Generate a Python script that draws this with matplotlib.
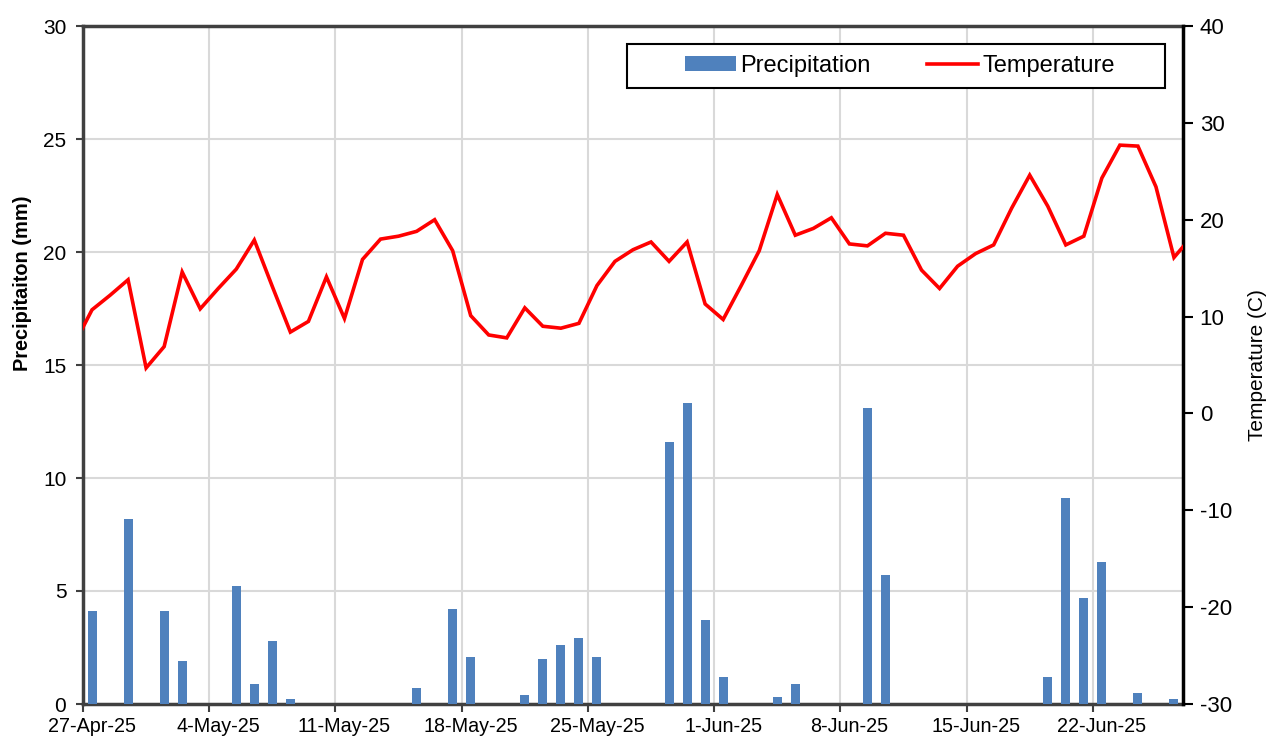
import datetime as dt
import matplotlib
matplotlib.use("Agg")
import matplotlib.pyplot as plt
import matplotlib.dates as mdates
from matplotlib.patches import Rectangle
from matplotlib.ticker import FixedLocator, NullFormatter

plt.rcParams['font.family'] = ['Liberation Sans', 'DejaVu Sans']
plt.rcParams['axes.unicode_minus'] = False

### Data (daily, starting 27-Apr-25)
start = dt.date(2025, 4, 27)
precip_mm = [4.1, 0, 8.2, 0, 4.1, 1.9, 0, 0, 5.2, 0.9,
             2.8, 0.2, 0, 0, 0, 0, 0, 0, 0.7, 0,
             4.2, 2.1, 0, 0, 0.4, 2.0, 2.6, 2.9, 2.1, 0,
             0, 0, 11.6, 13.3, 3.7, 1.2, 0, 0, 0.3, 0.9,
             0, 0, 0, 13.1, 5.7, 0, 0, 0, 0, 0,
             0, 0, 0, 1.2, 9.1, 4.7, 6.3, 0, 0.5, 0,
             0.2]
# temperature from 26-Apr to 27-Jun (first and last points fall outside the axis)
temp_c = [7.1,
          10.7, 12.2, 13.8, 4.7, 6.9, 14.6, 10.8, 12.9, 14.9, 17.9,
          13.1, 8.4, 9.5, 14.1, 9.8, 15.9, 18.0, 18.3, 18.8, 20.0,
          16.8, 10.1, 8.1, 7.8, 10.9, 9.0, 8.8, 9.3, 13.2, 15.7,
          16.9, 17.7, 15.7, 17.7, 11.3, 9.7, 13.2, 16.8, 22.6, 18.4,
          19.1, 20.2, 17.5, 17.3, 18.6, 18.4, 14.8, 12.9, 15.2, 16.5,
          17.4, 21.2, 24.6, 21.4, 17.4, 18.3, 24.3, 27.7, 27.6, 23.4,
          16.1, 18.3]

precip_dates = [start + dt.timedelta(days=i) for i in range(len(precip_mm))]
temp_dates = [start + dt.timedelta(days=i - 1) for i in range(len(temp_c))]
x_p = [mdates.date2num(d) + 0.5 for d in precip_dates]
x_t = [mdates.date2num(d) + 0.5 for d in temp_dates]

week_starts = [start + dt.timedelta(days=7 * k) for k in range(9)]
week_labels = [f"{d.day}-{d.strftime('%b-%y')}" for d in week_starts]

### Figure
W, H = 1269, 740
fig = plt.figure(figsize=(W / 100, H / 100), dpi=100)
ax = fig.add_axes([83 / W, 1 - 704 / H, 1100 / W, 678 / H])
ax2 = ax.twinx()

bars = ax.bar(x_p, precip_mm, width=0.5, color="#4f81bd", label="Precipitation", zorder=3)
line, = ax2.plot(x_t, temp_c, color="#ff0000", linewidth=2.6, label="Temperature",
                 solid_joinstyle="miter", zorder=4)

x0 = mdates.date2num(start)
ax.set_xlim(x0, x0 + 61)
ax.set_ylim(0, 30)
ax2.set_ylim(-30, 40)
ax.set_yticks(range(0, 31, 5))
ax2.set_yticks(range(-30, 41, 10))

# ticks at week starts, labels centred on the day
ax.xaxis.set_major_locator(FixedLocator([mdates.date2num(d) for d in week_starts]))
ax.xaxis.set_major_formatter(NullFormatter())
ax.xaxis.set_minor_locator(FixedLocator([mdates.date2num(d) + 0.5 for d in week_starts]))
ax.set_xticklabels(week_labels, minor=True)
ax.tick_params(axis="x", which="minor", length=0, pad=9, labelsize=14.2)
ax.tick_params(axis="x", which="major", length=6, width=1.5, color="#404040")

ax.tick_params(axis="y", length=5, width=1.5, color="#404040", labelsize=15, pad=7)
ax2.tick_params(axis="y", length=7, width=1.5, color="black", labelsize=16, pad=5)

ax.grid(True, which="major", color="#d9d9d9", linewidth=1.5, zorder=0)
ax.set_axisbelow(True)

for s in ["left", "bottom", "top"]:
    ax.spines[s].set_color("#404040")
    ax.spines[s].set_linewidth(2.5)
ax.spines["right"].set_visible(False)
for s in ["left", "bottom", "top"]:
    ax2.spines[s].set_visible(False)
ax2.spines["right"].set_color("black")
ax2.spines["right"].set_linewidth(2.5)

ax.set_ylabel("Precipitaiton (mm)", fontsize=14.4, fontweight="bold")
ax.yaxis.set_label_coords(-0.046, 0.621)
ax2.set_ylabel("Temperature (C)", fontsize=15)
ax2.yaxis.set_label_coords(1.059, 0.5)

# legend box
fig.patches.append(Rectangle((627 / W, 1 - 88 / H), 538 / W, 44 / H,
                             transform=fig.transFigure, facecolor="white",
                             edgecolor="black", linewidth=1.5, zorder=5))
leg = fig.legend([bars, line], ["Precipitation", "Temperature"], ncol=2,
                 loc="center", bbox_to_anchor=(900 / W, 1 - 66 / H),
                 fontsize=17, frameon=False, handlelength=2.16,
                 handleheight=0.6, columnspacing=2.4, handletextpad=0.2)
leg.set_zorder(6)

fig.savefig("out.png", dpi=100)
